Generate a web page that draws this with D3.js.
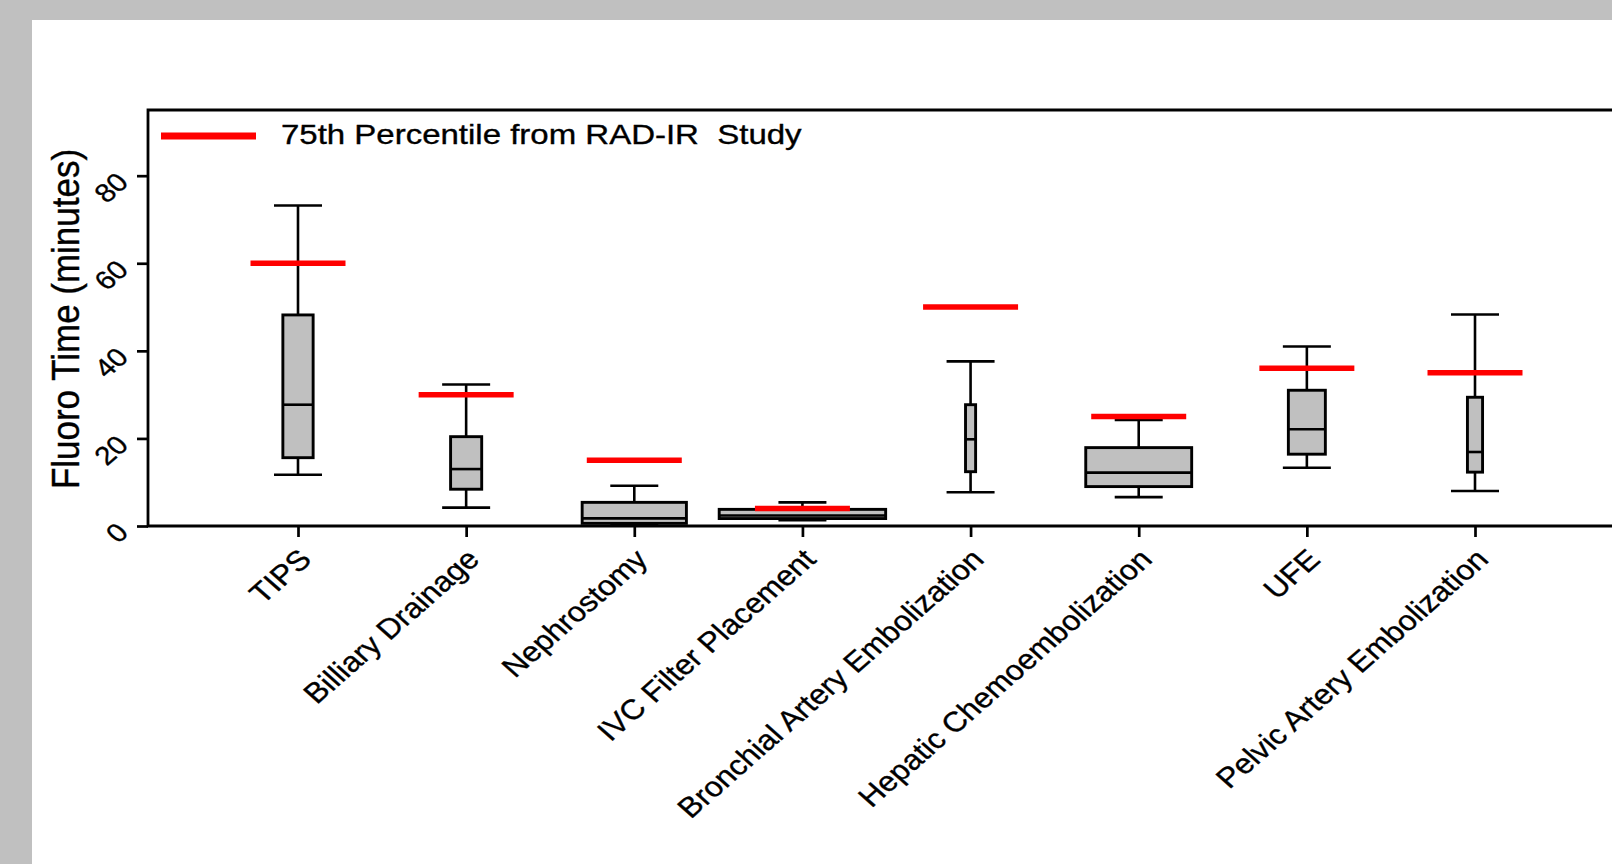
<!DOCTYPE html>
<html>
<head>
<meta charset="utf-8">
<script src="https://cdn.jsdelivr.net/npm/d3@7"></script>
<style>
  html, body { margin: 0; padding: 0; background: #c0c0c0; }
  svg { display: block; }
  text { font-family: "Liberation Sans", Arial, sans-serif; fill: #000; stroke: #000; stroke-width: 0.35px; }
</style>
</head>
<body>
<div id="container"></div>
<script>
const width = 1612;
const height = 864;

// procedures on the x axis
const categories = ["TIPS", "Billiary Drainage", "Nephrostomy", "IVC Filter Placement",
  "Bronchial Artery Embolization", "Hepatic Chemoembolization", "UFE", "Pelvic Artery Embolization"];
// box plot statistics, fluoro time in minutes
const whiskerLow  = [11.7, 4.2, 0.2, 1.3, 7.7, 6.6, 13.3, 8.0];
const quartile1   = [15.6, 8.4, 0.6, 1.7, 12.4, 9.0, 16.4, 12.3];
const medians     = [27.7, 13.0, 1.75, 2.4, 19.8, 12.2, 22.1, 16.9];
const quartile3   = [48.2, 20.4, 5.4, 3.8, 27.7, 17.9, 31.0, 29.4];
const whiskerHigh = [73.2, 32.3, 9.2, 5.4, 37.6, 24.2, 41.0, 48.3];
// 75th percentile from the RAD-IR study
const radir75 = [60, 30, 15, 4, 50, 25, 36, 35];
// relative box width (sample size weight)
const relWidth = [0.18, 0.185, 0.62, 0.99, 0.06, 0.63, 0.22, 0.09];
const yTicks = [0, 20, 40, 60, 80];

const data = categories.map((c, i) => ({
  name: c, lo: whiskerLow[i], q1: quartile1[i], med: medians[i],
  q3: quartile3[i], hi: whiskerHigh[i], ref: radir75[i], w: relWidth[i]
}));

const plotLeft = 148, plotTop = 110, plotBottom = 526, plotRight = 1650;
const stretch = 1.14; // the original picture is stretched horizontally

const svg = d3.select("#container")
              .append("svg")
              .attr("width", width)
              .attr("height", height);

// white page
svg.append("rect")
   .attr("x", 32).attr("y", 20)
   .attr("width", width - 32).attr("height", height - 20)
   .attr("fill", "#fff");

const x = d3.scalePoint()
            .domain(categories)
            .range([298, 1475]);
const step = x.step();
const wScale = d3.scaleLinear().domain([0, 1]).range([0, step]);
const y = d3.scaleLinear()
            .domain([0, 95])
            .range([plotBottom, plotTop]);

// axes (ticks only, frame drawn below)
const yAxis = svg.append("g")
                 .attr("transform", "translate(" + plotLeft + ",0)")
                 .call(d3.axisLeft(y).tickValues(yTicks).tickSize(11).tickFormat(""));
const xAxis = svg.append("g")
                 .attr("transform", "translate(0," + plotBottom + ")")
                 .call(d3.axisBottom(x).tickSize(11).tickFormat(""));
[yAxis, xAxis].forEach(g => {
  g.select(".domain").remove();
  g.selectAll(".tick line").attr("stroke", "#000").attr("stroke-width", 2.7);
});

// frame
svg.append("path")
   .attr("d", "M" + plotRight + "," + plotTop + "H" + plotLeft + "V" + plotBottom + "H" + plotRight)
   .attr("fill", "none")
   .attr("stroke", "#000")
   .attr("stroke-width", 2.8);

// y tick labels
svg.append("g")
   .selectAll("text")
   .data(yTicks)
   .enter()
   .append("text")
   .attr("transform", d => "translate(130," + (y(d) + 8) + ") scale(" + stretch + ",1) rotate(-45)")
   .attr("text-anchor", "end")
   .style("font-size", "26px")
   .text(d => d);

// x tick labels
svg.append("g")
   .selectAll("text")
   .data(categories)
   .enter()
   .append("text")
   .attr("transform", d => "translate(" + (x(d) + 15) + ",561) scale(" + stretch + ",1) rotate(-45)")
   .attr("text-anchor", "end")
   .style("font-size", "28px")
   .text(d => d);

// y axis title
svg.append("text")
   .attr("transform", "translate(79," + ((plotTop + plotBottom) / 2 + 1) + ") scale(1.12,1) rotate(-90)")
   .attr("text-anchor", "middle")
   .style("font-size", "35px")
   .text("Fluoro Time (minutes)");

// box plots
const box = svg.append("g")
               .selectAll("g")
               .data(data)
               .enter()
               .append("g")
               .attr("transform", d => "translate(" + x(d.name) + ",0)");
box.append("line")
   .attr("y1", d => y(d.lo))
   .attr("y2", d => y(d.hi))
   .attr("stroke", "#000")
   .attr("stroke-width", 2.6);
box.selectAll(".cap")
   .data(d => [d.lo, d.hi])
   .enter()
   .append("line")
   .attr("class", "cap")
   .attr("x1", -24).attr("x2", 24)
   .attr("y1", v => y(v)).attr("y2", v => y(v))
   .attr("stroke", "#000")
   .attr("stroke-width", 2.6);
box.append("rect")
   .attr("x", d => -wScale(d.w) / 2)
   .attr("width", d => wScale(d.w))
   .attr("y", d => y(d.q3))
   .attr("height", d => y(d.q1) - y(d.q3))
   .attr("fill", "#c0c0c0")
   .attr("stroke", "#000")
   .attr("stroke-width", 2.9);
box.append("line")
   .attr("x1", d => -wScale(d.w) / 2)
   .attr("x2", d => wScale(d.w) / 2)
   .attr("y1", d => y(d.med))
   .attr("y2", d => y(d.med))
   .attr("stroke", "#000")
   .attr("stroke-width", 2.6);

// RAD-IR 75th percentile markers
svg.append("g")
   .selectAll("line")
   .data(data)
   .enter()
   .append("line")
   .attr("x1", d => x(d.name) - 47.5)
   .attr("x2", d => x(d.name) + 47.5)
   .attr("y1", d => y(d.ref))
   .attr("y2", d => y(d.ref))
   .attr("stroke", "#ff0000")
   .attr("stroke-width", 5.5);

// legend
const legend = svg.append("g");
legend.append("line")
      .attr("x1", 161).attr("x2", 256)
      .attr("y1", 136).attr("y2", 136)
      .attr("stroke", "#ff0000")
      .attr("stroke-width", 7);
legend.append("text")
      .attr("transform", "translate(281,144) scale(1.2,1)")
      .style("font-size", "27.5px")
      .attr("xml:space", "preserve")
      .style("white-space", "pre")
      .text("75th Percentile from RAD-IR  Study");
</script>
</body>
</html>
